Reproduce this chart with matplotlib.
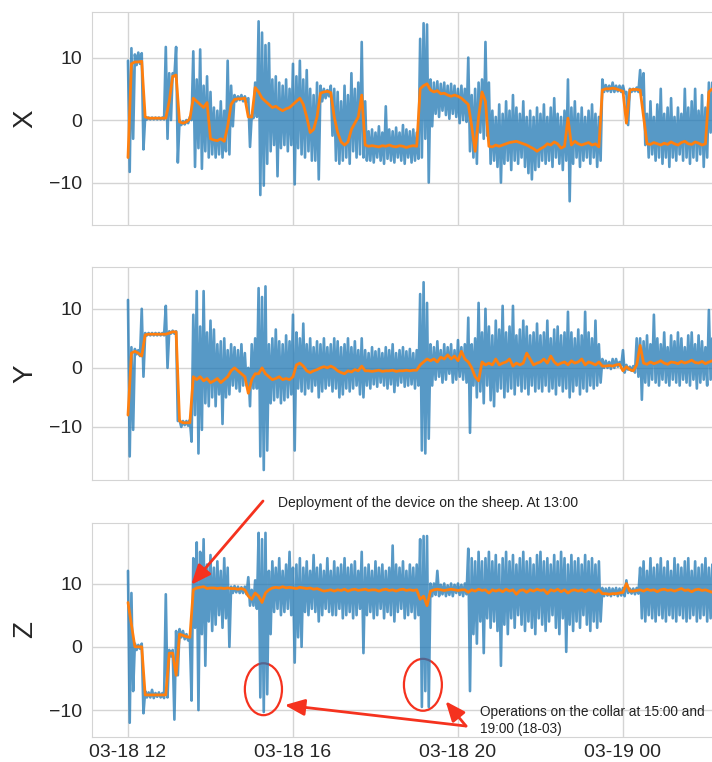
import numpy as np
import pandas as pd
import matplotlib
matplotlib.use('Agg')
import matplotlib.pyplot as plt
import matplotlib.dates as mdates
from matplotlib.patches import Ellipse
import seaborn as sns

# ---- data: 5-minute samples from 03-18 12:00 ----
# raw signal is kept as the upper / lower swing of each 5 min window,
# smoothed signal as one value per window
start = '2018-03-18 12:00'

x_smooth = [
    -6.0, 9.0, 9.3, 9.3, 9.4, 0.5, 0.3, 0.3, 0.3, 0.3, 0.3, 0.3,        # 12h
    3.0, 7.0, 7.2, -0.3, -0.5, -0.3, 0.2, 3.5, 3.0, 2.5, 2.0, 2.8,       # 13h
    -3.0, -3.2, -3.3, -3.0, -3.4, -1.0, 2.5, 3.3, 3.4, 3.4, 3.5, 0.5,    # 14h
    0.5, 5.2, 4.5, 3.5, 3.0, 2.5, 2.0, 2.2, 1.8, 1.5, 1.8, 2.0,          # 15h
    2.5, 3.0, 3.5, 2.5, 0.5, -2.0, -1.5, 0.5, 4.3, 4.5, 4.6, 4.4,        # 16h
    0.5, -2.0, -3.5, -4.0, -3.5, -1.5, -0.5, 0.5, 4.0, -4.0, -4.2, -4.1, # 17h
    -4.2, -4.3, -4.1, -4.2, -4.0, -4.2, -4.3, -4.1, -4.2, -4.4, -4.2, -4.1,
    -4.2, 5.0, 5.5, 5.8, 4.8, 4.5, 4.7, 4.2, 4.3, 4.0, 3.8, 4.0,         # 19h
    3.8, 3.5, 3.0, 2.5, -1.0, -5.0, 0.5, 4.5, 3.0, -4.2, -4.3, -4.0,     # 20h
    -4.2, -4.0, -3.8, -3.6, -3.5, -3.4, -3.6, -3.8, -4.0, -4.3, -4.6, -5.0,
    -4.6, -4.3, -3.8, -4.0, -3.5, -3.8, -4.5, -4.2, 0.3, -4.0, -3.4, -3.8,
    -4.0, -3.8, -3.6, -4.0, -3.8, -4.3, 4.8, 5.0, 5.0, 5.1, 5.0, 4.8,    # 23h
    4.6, -0.5, 4.8, 4.9, 4.9, 4.8, 0.5, -3.8, -3.9, -3.6, -3.8, -4.0,    # 00h
    -3.7, -3.9, -3.5, -3.8, -4.0, -3.6, -3.4, -3.8, -3.9, -3.5, -3.7, -4.0,
    -3.8, 4.5, 5.0]
x_hi = [
    9.5, 11.5, 10.5, 10.8, 10.7, 0.5, 0.4, 0.4, 0.4, 0.4, 0.4, 11.7,
    7.5, 7.5, 11.7, 0.0, -0.2, 0.0, 0.5, 11.0, 6.5, 11.3, 5.5, 7.0,
    4.5, 2.0, 1.5, 3.0, 1.5, 9.5, 5.5, 4.0, 3.8, 4.0, 3.8, 3.5,
    0.8, 6.0, 15.8, 14.0, 12.0, 12.3, 6.5, 7.0, 6.0, 5.5, 6.5, 5.0,
    9.0, 7.0, 9.5, 6.5, 8.0, 5.0, 4.0, 6.0, 5.5, 5.0, 4.8, 5.5,
    5.0, 4.5, 3.0, 5.5, 4.0, 7.5, 5.0, 6.0, 12.5, 3.0, -1.8, -1.5,
    -2.0, -1.0, -2.0, 2.2, -1.5, -1.8, -1.2, -2.0, -0.8, -1.5, -1.8, -1.5,
    -2.0, 13.0, 15.5, 15.3, 6.5, 6.0, 6.2, 5.8, 6.0, 5.5, 5.8, 5.5,
    5.0, 5.5, 5.0, 10.0, 4.0, 5.0, 6.0, 6.5, 12.5, 6.0, 1.5, 0.5,
    2.5, 1.0, 3.0, 1.5, 4.0, 2.0, 1.0, 3.0, 0.5, 1.5, 0.5, 2.0,
    1.0, 2.5, 0.5, 2.0, 3.5, 1.0, 0.5, 1.5, 6.5, 2.0, 3.0, 1.0,
    2.0, 0.5, 1.5, 2.5, 1.0, 0.5, 6.5, 5.6, 5.5, 6.0, 5.5, 5.5,
    5.5, 4.5, 5.0, 5.0, 5.2, 8.0, 7.5, 1.0, 3.0, 0.5, 2.5, 5.0,
    1.0, 2.0, 3.5, 0.5, 2.0, 1.0, 5.0, 2.0, 3.0, 5.0, 1.5, 4.0,
    2.0, 6.0, 6.0]
x_lo = [
    -8.3, -3.0, 8.8, 9.0, -4.7, 0.1, 0.1, 0.1, 0.1, 0.1, 0.1, -3.0,
    0.0, 7.0, -6.8, -0.8, -0.7, -0.5, 0.0, -7.5, -4.5, -7.8, -5.0, -6.0,
    -5.5, -6.0, -5.5, -6.0, -5.0, -5.5, -1.0, 3.0, 3.2, 3.0, 3.0, -4.3,
    0.3, 0.5, -12.0, -10.5, -7.0, -5.0, -4.0, -9.0, -4.5, -4.0, -5.0, -4.0,
    -10.3, -4.5, -5.5, -6.0, -5.0, -6.5, -6.5, -9.5, 3.0, 3.5, 3.8, -2.5,
    -6.5, -7.0, -6.5, -6.0, -7.0, -5.0, -6.0, -5.5, -6.0, -6.5, -6.5, -6.8,
    -6.0, -6.5, -7.0, -6.2, -6.5, -6.8, -6.0, -6.5, -7.0, -6.0, -6.8, -6.5,
    -6.2, -6.0, -3.0, -10.0, -1.0, 1.0, 0.5, 1.5, 0.8, 0.2, 1.0, 0.5,
    -0.5, 0.0, -0.3, -5.0, -6.0, -7.0, -2.0, -3.0, -2.5, -7.0, -6.5, -7.5,
    -10.0, -7.0, -6.5, -8.0, -6.5, -7.0, -6.0, -7.5, -8.5, -9.5, -8.0, -7.5,
    -6.5, -7.0, -6.5, -7.5, -6.0, -7.0, -8.0, -6.5, -13.0, -7.0, -6.0, -7.5,
    -6.5, -6.0, -7.0, -6.0, -7.5, -6.5, 4.5, 4.6, 4.5, 4.5, 4.6, 4.5,
    4.3, -0.8, 4.5, 4.6, 4.5, 4.0, -4.0, -6.0, -5.5, -6.5, -6.0, -7.0,
    -6.0, -7.5, -6.0, -6.5, -5.5, -6.5, -6.0, -7.0, -6.0, -6.5, -5.5, -7.5,
    -6.0, -2.0, 4.5]

y_smooth = [
    -8.0, 2.5, 2.8, 2.5, 2.0, 5.6, 5.7, 5.7, 5.7, 5.7, 5.7, 5.7,
    5.9, 6.1, 6.1, -9.0, -9.3, -9.3, -9.3, -1.5, -2.0, -1.5, -2.2, -1.8,
    -2.5, -2.2, -1.8, -2.5, -2.0, -1.5, -0.5, 0.0, -0.5, -1.0, -1.5, -4.3,
    -2.0, -1.0, -1.0, 0.0, -1.0, -1.5, -2.0, -1.8, -1.5, -2.0, -1.8, -2.0,
    -1.5, 0.5, 0.8, 0.3, -0.5, -0.8, -0.5, -0.3, 0.0, 0.2, 0.0, 0.3,
    0.0, -0.5, -0.8, -1.0, -0.5, -0.7, -0.3, -0.5, 0.3, -0.5, -0.5, -0.6,
    -0.5, -0.4, -0.6, -0.5, -0.5, -0.4, -0.6, -0.5, -0.5, -0.4, -0.5, -0.4,
    -0.4, 0.5, 1.0, 1.5, 1.2, 1.5, 1.0, 1.8, 1.5, 2.2, 1.5, 2.0,
    1.2, 2.8, 1.5, 1.0, 0.0, -1.5, -2.2, 1.0, 0.5, 0.8, 0.5, 1.5,
    0.5, 0.8, 1.0, 1.5, 0.3, 0.8, 0.5, 0.8, 2.5, 1.5, 0.5, 0.8,
    1.0, 1.5, 0.8, 2.0, 1.0, 0.5, 0.8, 1.0, 0.5, 1.2, 0.8, 1.0,
    1.5, 0.5, 1.0, 0.8, 0.5, 1.0, 0.3, 0.3, 0.4, 0.3, 0.5, 0.6,
    -0.5, 0.2, -0.3, -0.5, 0.5, 3.8, 0.8, 0.6, 1.0, 0.7, 0.9, 1.2,
    0.8, 0.6, 1.0, 0.9, 0.7, 1.1, 0.8, 1.0, 1.3, 0.9, 0.8, 1.1,
    0.7, 1.0, 1.2]
y_hi = [
    11.5, 3.5, 3.2, 3.0, 10.0, 5.9, 5.9, 5.9, 5.9, 5.9, 5.9, 10.5,
    6.2, 6.3, 6.2, -8.8, -9.0, -9.0, -8.8, 9.0, 13.0, 7.0, 13.0, 6.0,
    8.0, 6.5, 4.0, 4.5, 5.0, 3.0, 4.0, 3.5, 3.0, 4.0, 2.5, 0.0,
    4.0, 5.0, 13.5, 12.0, 13.8, 4.0, 5.0, 6.5, 4.5, 4.0, 5.5, 4.5,
    9.0, 6.0, 5.0, 7.5, 4.0, 5.0, 3.5, 4.5, 4.0, 5.0, 3.5, 4.0,
    5.0, 4.5, 3.5, 4.0, 5.0, 3.5, 4.5, 3.0, 5.0, 3.0, 2.5, 3.5,
    2.8, 3.2, 2.5, 3.5, 3.0, 4.0, 2.5, 3.0, 3.5, 2.8, 3.2, 2.5,
    3.0, 12.5, 14.5, 11.0, 4.0, 3.5, 4.5, 3.0, 4.0, 3.5, 4.0, 3.0,
    4.7, 3.5, 4.0, 8.5, 4.0, 5.0, 11.0, 6.0, 10.0, 7.0, 5.5, 8.0,
    6.5, 10.5, 6.0, 7.0, 10.5, 5.5, 6.5, 8.0, 7.0, 5.5, 6.0, 7.5,
    5.5, 6.0, 8.0, 5.0, 6.5, 7.0, 5.5, 6.0, 9.5, 6.0, 5.0, 6.5,
    5.5, 9.5, 6.0, 5.0, 8.0, 4.0, 1.5, 1.2, 1.0, 1.5, 1.5, 1.0,
    3.0, 0.5, 0.2, 0.3, 5.0, 5.0, 4.5, 5.5, 4.0, 9.0, 5.0, 4.0,
    6.0, 3.5, 5.5, 4.5, 6.0, 5.0, 3.5, 5.5, 6.0, 4.0, 5.5, 4.5,
    3.5, 9.8, 5.0]
y_lo = [
    -15.0, -10.5, 2.3, 2.0, -1.5, 5.5, 5.5, 5.5, 5.5, 5.5, 5.5, 0.0,
    5.8, 5.8, -9.0, -10.0, -9.7, -9.8, -12.5, -8.0, -14.5, -10.5, -6.0, -6.5,
    -5.0, -6.5, -4.5, -9.5, -5.0, -4.5, -3.0, -3.5, -4.0, -3.0, -3.0, -6.5,
    -3.5, -3.5, -15.0, -17.3, -14.0, -6.0, -5.5, -5.0, -6.0, -5.5, -5.0, -4.5,
    -14.0, -3.5, -4.0, -4.5, -3.5, -4.0, -3.0, -5.0, -4.0, -3.5, -3.0, -4.0,
    -3.5, -5.0, -4.5, -3.5, -4.0, -3.5, -3.0, -4.5, -5.0, -3.0, -3.5, -2.8,
    -3.2, -2.5, -3.0, -3.5, -2.8, -4.1, -3.0, -2.5, -3.2, -3.0, -2.8, -3.5,
    -3.0, -14.0, -14.5, -12.0, -3.0, -2.0, -1.5, -2.5, -2.0, -1.0, -2.5, -2.0,
    -1.5, -2.0, -2.5, -11.0, -3.0, -5.0, -4.0, -6.0, -3.0, -5.5, -6.5, -4.0,
    -3.5, -5.0, -4.0, -3.5, -4.5, -3.0, -4.0, -3.5, -4.5, -3.0, -4.0, -3.5,
    -4.0, -3.0, -4.0, -3.5, -4.5, -3.0, -4.0, -3.5, -5.0, -4.0, -3.0, -4.5,
    -3.5, -4.0, -3.0, -3.5, -3.0, -2.5, 0.0, 0.0, -0.2, 0.0, 0.2, 0.3,
    -0.8, -0.3, -0.5, -0.8, -1.5, -5.4, -2.5, -3.0, -2.0, -2.5, -3.0, -2.0,
    -2.5, -3.0, -2.0, -2.5, -3.0, -2.0, -2.5, -3.0, -2.0, -3.5, -2.5, -2.0,
    -3.0, -2.0, -2.0]

z_smooth = [
    7.0, 3.5, 0.0, 0.0, 0.0, -7.6, -7.6, -7.6, -7.6, -7.6, -7.6, -7.6,
    -1.0, -1.0, -4.5, 2.0, 1.8, 1.6, 1.5, 9.0, 9.3, 9.4, 9.5, 9.2,
    9.3, 9.3, 9.2, 9.3, 9.2, 9.3, 9.2, 9.2, 9.1, 9.2, 9.0, 8.0,
    7.5, 8.5, 8.0, 7.0, 8.5, 9.0, 9.3, 9.4, 9.3, 9.5, 9.3, 9.4,
    9.3, 9.2, 9.4, 9.3, 9.2, 9.3, 9.1, 9.2, 9.0, 8.8, 8.9, 9.0,
    8.8, 9.0, 8.9, 9.1, 8.8, 9.0, 9.1, 8.9, 9.0, 9.1, 8.9, 9.0,
    9.0, 8.8, 9.0, 9.1, 8.9, 9.0, 8.8, 9.0, 9.1, 8.9, 9.0, 8.9,
    9.0, 7.5, 8.0, 6.5, 8.8, 9.0, 9.1, 9.0, 8.9, 9.0, 9.1, 9.0,
    8.9, 9.0, 9.0, 8.6, 9.0, 8.8, 9.1, 8.9, 9.0, 8.5, 9.0, 8.8,
    9.0, 8.7, 9.1, 8.8, 9.0, 8.3, 8.9, 9.0, 8.6, 9.0, 8.8, 9.1,
    8.9, 9.0, 8.4, 9.0, 8.8, 9.1, 8.7, 9.0, 8.5, 8.9, 9.0, 8.8,
    9.0, 8.7, 9.0, 8.9, 8.6, 9.0, 8.4, 8.4, 8.3, 8.4, 8.4, 8.5,
    8.6, 10.0, 8.8, 8.8, 8.9, 9.0, 8.8, 9.1, 8.9, 9.0, 8.7, 9.0,
    9.1, 8.9, 9.0, 8.8, 9.0, 9.2, 8.9, 9.0, 8.7, 9.0, 9.1, 8.9,
    9.0, 8.8, 8.6]
z_hi = [
    12.0, 8.5, 0.5, 0.3, 0.5, -7.0, -7.2, -6.8, -7.3, -7.2, -7.3, 8.3,
    -0.5, -0.5, 2.5, 2.8, 2.5, 2.0, 1.5, 14.0, 16.5, 15.0, 17.0, 13.0,
    14.5, 12.5, 13.5, 12.0, 14.0, 12.5, 9.5, 9.6, 9.5, 9.4, 9.5, 11.0,
    9.0, 10.5, 18.0, 17.0, 18.0, 12.0, 13.5, 12.5, 14.0, 12.0, 13.0, 15.0,
    12.5, 13.0, 14.0, 12.5, 13.5, 12.0, 14.5, 12.5, 13.0, 12.0, 14.0, 12.0,
    13.5, 12.5, 13.0, 14.0, 12.5, 13.0, 13.5, 12.0, 15.0, 12.5, 13.0, 12.0,
    13.5, 12.5, 13.0, 12.0, 12.5, 16.0, 13.0, 12.5, 13.5, 12.0, 13.0, 12.5,
    13.0, 17.0, 17.5, 17.5, 10.0, 10.0, 12.0, 9.8, 10.0, 9.7, 10.0, 9.8,
    10.0, 9.8, 10.0, 15.5, 14.0, 13.5, 15.0, 13.5, 14.0, 15.0, 13.5, 14.5,
    13.0, 14.0, 15.0, 13.5, 14.5, 13.0, 14.0, 15.0, 13.5, 14.0, 13.0, 14.5,
    15.0, 13.5, 14.0, 13.0, 14.5, 13.5, 15.0, 14.0, 13.0, 14.5, 13.5, 14.0,
    13.0, 14.5, 13.5, 14.0, 13.0, 13.5, 9.3, 9.2, 9.3, 9.2, 9.3, 9.2,
    9.3, 10.5, 9.2, 9.2, 9.3, 12.5, 13.5, 12.0, 14.0, 12.5, 13.0, 14.0,
    12.5, 13.5, 12.0, 14.0, 13.0, 12.5, 13.5, 14.0, 12.0, 13.5, 12.5, 13.0,
    14.0, 12.5, 13.0]
z_lo = [
    -12.0, -7.0, -0.5, -0.3, -10.5, -8.0, -8.0, -8.1, -7.9, -8.0, -8.1, -8.0,
    -1.5, -11.5, -4.5, 1.5, 1.2, 1.0, -8.5, 3.0, -10.0, 2.0, -3.0, 4.0,
    2.5, 3.5, 5.0, 3.0, 4.5, 0.0, 8.5, 8.6, 8.5, 8.5, 8.3, 6.5,
    6.5, 6.0, -8.0, -10.3, -7.5, 2.0, 5.5, 6.0, 5.0, 5.5, 6.0, 5.0,
    -2.5, 1.5, 0.0, 5.5, 5.0, 6.0, 5.5, 4.0, 5.0, 6.0, 5.5, 5.0,
    5.0, 6.0, 4.5, 5.0, 5.5, 4.5, 5.0, 6.0, -1.0, 5.0, 5.5, 4.5,
    5.0, 6.0, 4.5, 5.5, 5.0, 4.0, 5.5, 6.0, 4.5, 5.0, 5.5, 4.5,
    5.0, -9.5, -7.0, -9.5, 8.0, 8.2, 8.0, 8.3, 8.0, 8.2, 8.0, 8.5,
    8.2, 8.0, 8.3, -7.0, 2.0, 0.5, 4.0, -1.0, 4.5, 3.0, 4.0, 2.5,
    -3.0, 3.5, 2.0, 4.5, 3.0, 5.0, 3.5, 2.5, 4.0, 3.0, 2.0, 4.5,
    3.5, 2.5, 4.0, 5.0, 3.0, 2.0, 4.5, -0.8, 3.5, 2.5, 4.0, 3.0,
    5.0, 3.5, 2.5, 4.0, 3.0, 4.0, 8.0, 8.1, 8.0, 8.2, 8.0, 8.1,
    8.0, 8.5, 8.4, 8.3, 8.4, 4.5, 4.0, 5.0, 4.5, 4.0, 5.0, 4.5,
    4.0, 5.0, 4.5, 4.0, 5.0, 4.5, 4.0, 4.5, 5.0, 4.0, 4.5, 5.0,
    4.0, 4.5, 4.0]

panels = [('X', x_hi, x_lo, x_smooth, (-16.8, 17.3)),
          ('Y', y_hi, y_lo, y_smooth, (-19.0, 17.0)),
          ('Z', z_hi, z_lo, z_smooth, (-14.2, 19.6))]

red = '#f5321e'

sns.set_style('whitegrid')
plt.rcParams['font.family'] = ['Liberation Sans', 'DejaVu Sans']

t = pd.date_range(start, periods=len(x_smooth), freq='5min')
t_raw = np.column_stack([t.values, (t + pd.Timedelta('150s')).values]).ravel()

fig = plt.figure(figsize=(7.12, 7.62), dpi=100)
boxes = [[0.1292, 0.7047, 0.882, 0.2796],
         [0.1292, 0.3700, 0.882, 0.2790],
         [0.1292, 0.0332, 0.882, 0.2808]]
axes = []
for box, (name, hi, lo, smooth, ylim) in zip(boxes, panels):
    assert len(hi) == len(lo) == len(smooth) == len(t)
    ax = fig.add_axes(box)
    raw = np.column_stack([hi, lo]).ravel()
    ax.plot(t_raw, raw, color='tab:blue', alpha=0.75, lw=1.9)
    ax.plot(t, smooth, color='tab:orange', lw=2)
    ax.set_ylim(*ylim)
    ax.set_xlim(pd.Timestamp('2018-03-18 11:07:38'), pd.Timestamp('2018-03-19 02:21:08'))
    ax.set_yticks([-10, 0, 10])
    ax.xaxis.set_major_locator(mdates.HourLocator(byhour=[0, 4, 8, 12, 16, 20]))
    ax.xaxis.set_major_formatter(mdates.DateFormatter('%m-%d %H'))
    ax.tick_params(labelsize=14, length=0)
    ax.tick_params(axis='x', pad=5)
    ax.tick_params(axis='y', pad=7)
    ax.set_ylabel(name, fontsize=20, labelpad=8)
    ax.grid(color='#d4d4d4', lw=1.0)
    for s in ax.spines.values():
        s.set_color('#d4d4d4')
    if name != 'Z':
        ax.tick_params(labelbottom=False)
    axes.append(ax)

axz = axes[2]
d = mdates.date2num

# deployment note
fig.text(0.3904, 0.3399, 'Deployment of the device on the sheep. At 13:00',
         fontsize=10, va='center', ha='left', color='#222222')
axz.annotate('', xy=(d(pd.Timestamp('2018-03-18 13:32')), 9.8),
             xytext=(0.3694, 0.3425), textcoords='figure fraction',
             arrowprops=dict(arrowstyle='-|>,head_length=0.6,head_width=0.25',
                             color=red, lw=2, mutation_scale=20, shrinkA=0, shrinkB=0),
             annotation_clip=False)

# collar operations: circles + arrows
for c, w in [('2018-03-18 15:17', 0.9), ('2018-03-18 19:09', 0.92)]:
    zc = -6.7 if c.endswith('15:17') else -6.0
    axz.add_patch(Ellipse((d(pd.Timestamp(c)), zc), w / 24, 8.2, fill=False,
                          ec=red, lw=1.6, clip_on=False))
fig.text(0.6742, 0.0546, 'Operations on the collar at 15:00 and\n19:00 (18-03)',
         fontsize=9.8, va='center', ha='left', linespacing=1.3, color='#222222')
for tip, zt in [('2018-03-18 15:48', -9.2), ('2018-03-18 19:42', -8.6)]:
    axz.annotate('', xy=(d(pd.Timestamp(tip)), zt),
                 xytext=(0.6545, 0.0472), textcoords='figure fraction',
                 arrowprops=dict(arrowstyle='-|>,head_length=0.6,head_width=0.25',
                                 color=red, lw=2, mutation_scale=20, shrinkA=0, shrinkB=0),
                 annotation_clip=False)

fig.savefig('out.png', dpi=100)
